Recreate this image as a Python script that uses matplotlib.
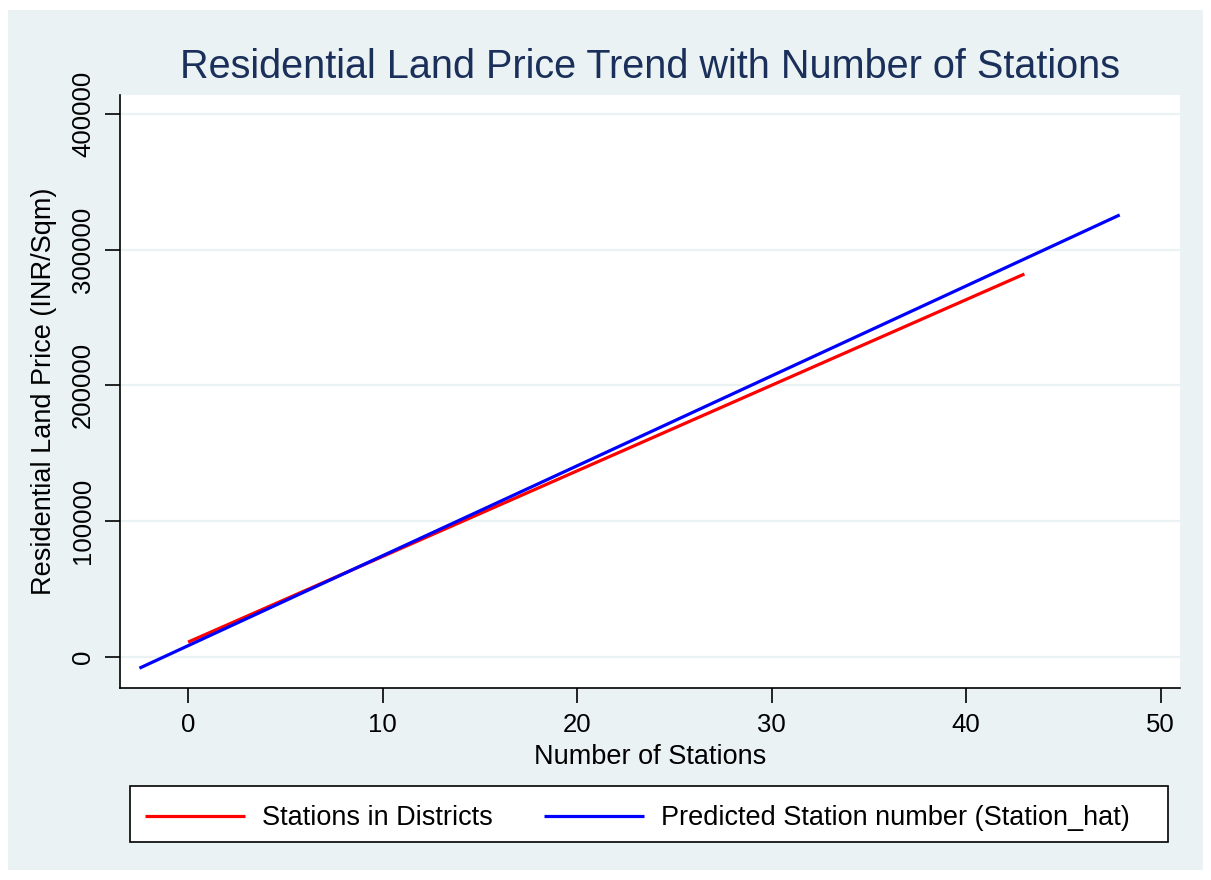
import matplotlib.pyplot as plt
from matplotlib.patches import Rectangle

# fitted lines, endpoints of each series
stations_obs = [0.0, 43.0]
price_obs = [11000, 282000]

stations_hat = [-2.5, 47.9]
price_hat = [-8200, 325500]

xticks = [0, 10, 20, 30, 40, 50]
yticks = [0, 100000, 200000, 300000, 400000]

bg = '#eaf2f3'
plt.rcParams['font.family'] = ['Liberation Sans', 'DejaVu Sans']

W, H = 1211, 880
fig = plt.figure(figsize=(W / 100, H / 100), dpi=100)
fig.patch.set_facecolor('white')
# graph region and legend box
fig.patches.append(Rectangle((8 / W, 10 / H), 1195 / W, 860 / H,
                             transform=fig.transFigure, facecolor=bg,
                             edgecolor='none', zorder=-10))
fig.patches.append(Rectangle((130 / W, 1 - 842 / H), 1038 / W, 56 / H,
                             transform=fig.transFigure, facecolor='white',
                             edgecolor='black', lw=1.2, zorder=-5))

ax = fig.add_axes([120 / W, 1 - 688 / H, 1060 / W, 593 / H])
ax.set_facecolor('white')

ax.plot(stations_obs, price_obs, color='#ff0000', lw=2.3, label='Stations in Districts',
        solid_capstyle='butt')
ax.plot(stations_hat, price_hat, color='#0000ff', lw=2.3,
        label='Predicted Station number (Station_hat)', solid_capstyle='butt')

ax.set_xlim(-3.5, 51.0)
ax.set_ylim(-22800, 413800)
ax.set_xticks(xticks)
ax.set_yticks(yticks)
ax.set_yticklabels([str(v) for v in yticks], rotation=90, va='center')
ax.tick_params(labelsize=18.5, length=11, width=1.2, color='black', pad=7)
ax.grid(axis='y', color=bg, lw=1.6)
ax.set_axisbelow(True)

for s in ['top', 'right']:
    ax.spines[s].set_visible(False)
for s in ['left', 'bottom']:
    ax.spines[s].set_linewidth(1.2)
    ax.spines[s].set_color('black')

ax.set_xlabel('Number of Stations', fontsize=19.5, labelpad=5)
ax.set_ylabel('Residential Land Price (INR/Sqm)', fontsize=19.5, labelpad=10)
fig.text(650 / W, 1 - 67 / H, 'Residential Land Price Trend with Number of Stations',
         fontsize=28.5, color='#1a2f5a', ha='center', va='center')

fig.legend(loc='center left', ncol=2, bbox_to_anchor=(145 / W, 1 - 818 / H),
           fontsize=19.5, frameon=False, handlelength=3.7, handletextpad=0.62,
           columnspacing=1.9, borderaxespad=0, borderpad=0)

fig.savefig('out.png', dpi=100, facecolor=fig.get_facecolor())
